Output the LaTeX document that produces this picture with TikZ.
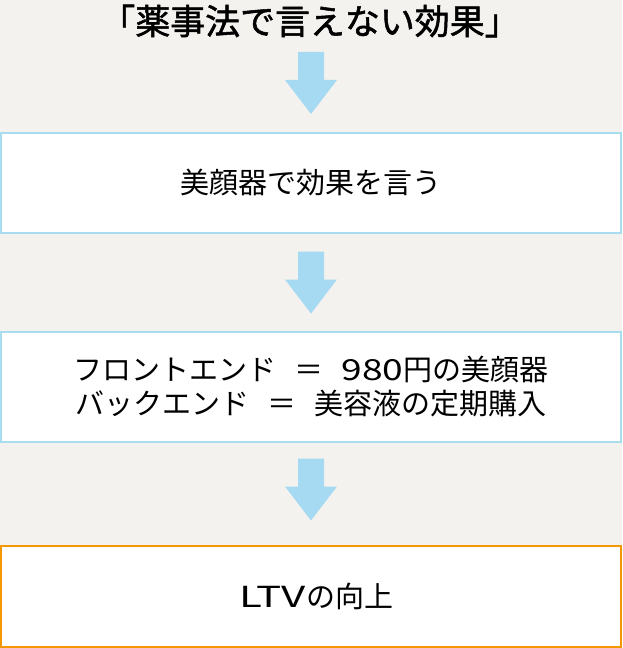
\documentclass[tikz,border=0pt]{standalone}
\usepackage{fontspec}
\setmainfont{Noto Sans CJK JP}
\newfontfamily\jpbold{Noto Sans CJK JP}[FakeBold=1.5]
\newfontfamily\widelatin{Noto Sans CJK JP}[FakeStretch=1.28]
\newfontfamily\widerlatin{Noto Sans CJK JP}[FakeStretch=1.45]
\usetikzlibrary{positioning,calc}

\definecolor{bgbeige}{HTML}{F3F2EE}
\definecolor{arrowblue}{HTML}{A6D9F2}
\definecolor{lineblue}{HTML}{A8DCEF}
\definecolor{lineorange}{HTML}{F39800}

\newcommand{\eqsep}{\hspace{0.62em}＝\hspace{0.62em}}

\tikzset{
  stepbox/.style={draw=lineblue, line width=1.5pt, fill=white,
    minimum width=465pt, inner sep=0pt, align=center,
    font=\fontsize{21.75pt}{25.5pt}\selectfont},
  downarrow/.pic={
    \fill[arrowblue] (-13,-31) -- (13,-31) -- (13,-3) -- (26,-3)
      -- (0,31) -- (-26,-3) -- (-13,-3) -- cycle;
  }
}

\begin{document}
\begin{tikzpicture}[x=0.75pt, y=-0.75pt]
\fill[bgbeige] (0,0) rectangle (622,648);
\useasboundingbox (0,0) rectangle (622,648);

\node[font=\fontsize{26.2pt}{30pt}\jpbold] (title) at (310,21) {「薬事法で言えない効果」};

\node[stepbox, minimum height=75pt] (box1) at (311,183) {美顔器で効果を言う};
\node[stepbox, minimum height=82.5pt] (box2) at (311,387)
  {フロントエンド\eqsep{\widelatin 980}円の美顔器\\バックエンド\eqsep 美容液の定期購入};
\node[stepbox, draw=lineorange, minimum height=75.75pt] (box3) at (311,596.5)
  {\raisebox{-2pt}{\hspace{8pt}{\widerlatin LTV}の向上}};

% block arrows between the steps
\coordinate (arr1) at (311,83);
\coordinate (arr2) at ($(box1.south)!0.5!(box2.north)$);
\coordinate (arr3) at (311,489.5);
\foreach \p in {arr1, arr2, arr3}
  \pic at (\p) {downarrow};
\end{tikzpicture}
\end{document}
